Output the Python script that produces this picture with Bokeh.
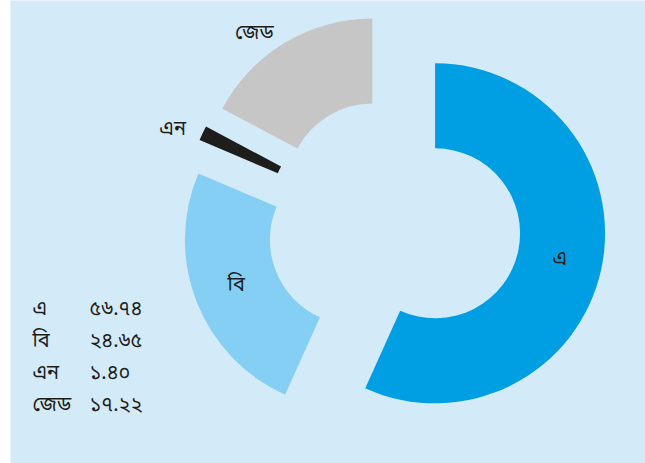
import math
from bokeh.plotting import figure
from bokeh.models import Range1d, ColumnDataSource
from bokeh.core.properties import value
from bokeh.embed import file_html
from bokeh.resources import INLINE

# ---- data ----
names = ["এ", "বি", "এন", "জেড"]
values = [56.74, 24.65, 1.40, 17.22]
colors = ["#009fe3", "#86cff4", "#1d1d1b", "#c6c6c6"]

BN_DIGITS = str.maketrans("0123456789", "০১২৩৪৫৬৭৮৯")
value_labels = [f"{v:.2f}".translate(BN_DIGITS) for v in values]

FONT = value("'Noto Sans Bengali', 'Noto Sans', sans-serif")
W, H = 645, 463
LEFT = 10

p = figure(width=W, height=H, output_backend="svg", toolbar_location=None,
           x_range=Range1d(LEFT, W), y_range=Range1d(0, H),
           min_border_left=LEFT, min_border_right=0, min_border_top=0, min_border_bottom=0)
p.axis.visible = False
p.grid.visible = False
p.outline_line_color = None
p.background_fill_color = "#d3eaf9"
p.border_fill_color = "#ffffff"

# donut geometry
cx, cy = 393.5, H - 224
R_OUT, R_IN, EXPLODE = 170, 85, 42

total = sum(values)
cum = 0.0
xs, ys, starts, ends = [], [], [], []
lab_x, lab_y, lab_t, lab_align = [], [], [], []
for n, v in zip(names, values):
    t0 = 360 * cum / total
    cum += v
    t1 = 360 * cum / total
    tm = math.radians((t0 + t1) / 2)
    ux, uy = math.sin(tm), math.cos(tm)
    wx, wy = cx + EXPLODE * ux, cy + EXPLODE * uy
    xs.append(wx); ys.append(wy)
    starts.append(math.radians(90 - t0)); ends.append(math.radians(90 - t1))
    if v >= 20:
        rl = (R_OUT + R_IN) / 2
        lab_x.append(wx + rl * ux); lab_y.append(wy + rl * uy); lab_align.append("center")
    else:
        rl = R_OUT + EXPLODE + 14
        lab_x.append(cx + rl * ux - 4); lab_y.append(cy + rl * uy - 3)
        lab_align.append("right" if ux < 0 else "left")
    lab_t.append(n)

src = ColumnDataSource(dict(x=xs, y=ys, s=starts, e=ends, c=colors))
p.annular_wedge(x="x", y="y", inner_radius=R_IN, outer_radius=R_OUT,
                start_angle="s", end_angle="e", direction="clock",
                fill_color="c", line_color=None, source=src)

lsrc = ColumnDataSource(dict(x=lab_x, y=lab_y, t=lab_t, a=lab_align))
p.text(x="x", y="y", text="t", text_align="a", text_baseline="middle",
       text_font=FONT, text_font_size="20px", text_color="#1d1d1b", source=lsrc)

# legend table
row_y = [H - (309 + 32 * i) for i in range(len(names))]
p.text(x=[32] * len(names), y=row_y, text=names, text_align="left", text_baseline="middle",
       text_font=FONT, text_font_size="20px", text_color="#1d1d1b")
p.text(x=[89] * len(names), y=row_y, text=value_labels, text_align="left", text_baseline="middle",
       text_font=FONT, text_font_size="20px", text_color="#1d1d1b")

open("out.html", "w").write(file_html(p, INLINE))
